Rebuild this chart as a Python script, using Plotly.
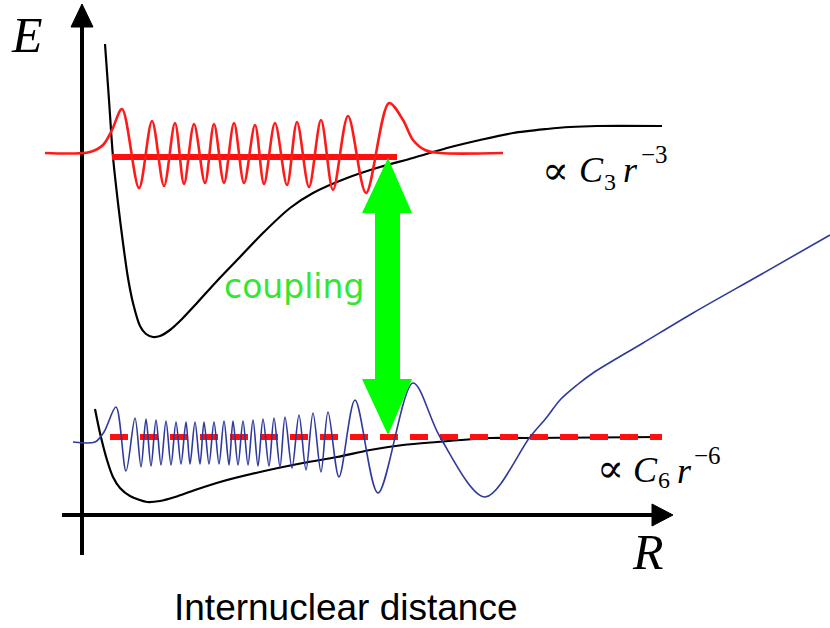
import plotly.graph_objects as go

# ---- data (pixel-like schematic coordinates) ----
UPPER_POT_X = [105, 109, 113, 118, 123, 128, 133, 140, 146, 153, 160, 170, 182, 197, 217, 240, 263, 290, 313, 347, 380, 413, 447, 480, 513, 547, 570, 597, 662]
UPPER_POT_Y = [44, 100, 157, 203, 243, 278, 303, 326, 334, 337, 336, 330, 319, 303, 281, 257, 233, 208, 193, 178, 167, 158, 148, 140, 133, 129, 127, 126, 126]

LOWER_POT_X = [95, 100, 107, 113, 120, 130, 147, 160, 175, 195, 220, 260, 303, 337, 370, 403, 437, 490, 527, 662]
LOWER_POT_Y = [409, 433, 460, 477, 488, 496, 502, 501, 497, 490, 482, 472, 463, 457, 450, 445, 442, 438, 438, 437]

RED_WAVE_X = [45, 90, 103, 112, 122, 139, 152, 164, 175, 184, 194, 205, 214, 224, 234, 244, 255, 264, 275, 287, 297, 309, 321, 333, 348, 366, 389, 403, 413, 425, 440, 503]
RED_WAVE_Y = [153, 152, 145, 130, 109, 188, 121, 186, 123, 184, 124, 183, 124, 183, 123, 183, 125, 184, 123, 185, 122, 187, 120, 190, 116, 193, 103, 120, 140, 150, 153, 153]

BLUE_WAVE_X = [73, 95, 104, 116, 126, 135, 141, 146, 151, 156, 161, 166, 171, 176, 181, 186, 190, 195, 200, 204, 209, 214, 219, 224, 229, 233, 238, 243, 248, 253, 258, 263, 269, 274, 280, 285, 292, 299, 306, 313, 321, 328, 339, 355, 378, 413, 440, 485, 530, 547, 560, 577, 593, 643, 693, 760, 830]
BLUE_WAVE_Y = [442, 442, 432, 407, 471, 418, 467, 419, 466, 420, 465, 421, 465, 422, 464, 422, 464, 422, 464, 422, 464, 422, 464, 421, 465, 421, 465, 421, 465, 420, 466, 419, 466, 418, 467, 417, 468, 415, 470, 413, 472, 412, 477, 400, 493, 383, 437, 497, 437, 417, 400, 385, 373, 343, 313, 275, 235]

THRESH_RED_X = [112, 397]      # thick red level (upper state)
THRESH_RED_Y = [157, 157]
DASHED_X = [110, 662]          # dashed red level (lower state)
DASHED_Y = [437, 437]

fig = go.Figure()

# axes
fig.add_trace(go.Scatter(x=[82, 82], y=[555, 26], mode="lines", line=dict(color="black", width=4)))
fig.add_trace(go.Scatter(x=[71, 93, 82, 71], y=[27, 27, 4, 27], mode="lines", fill="toself",
                         fillcolor="black", line=dict(color="black", width=1)))
fig.add_trace(go.Scatter(x=[62, 653], y=[515, 515], mode="lines", line=dict(color="black", width=4)))
fig.add_trace(go.Scatter(x=[652, 652, 673, 652], y=[504, 526, 515, 504], mode="lines", fill="toself",
                         fillcolor="black", line=dict(color="black", width=1)))

# potentials
fig.add_trace(go.Scatter(x=UPPER_POT_X, y=UPPER_POT_Y, mode="lines",
                         line=dict(color="black", width=2.2, shape="spline", smoothing=0.8)))
fig.add_trace(go.Scatter(x=LOWER_POT_X, y=LOWER_POT_Y, mode="lines",
                         line=dict(color="black", width=2.2, shape="spline", smoothing=0.8)))

# levels
fig.add_trace(go.Scatter(x=THRESH_RED_X, y=THRESH_RED_Y, mode="lines", line=dict(color="#ff1010", width=6)))
fig.add_trace(go.Scatter(x=DASHED_X, y=DASHED_Y, mode="lines",
                         line=dict(color="#ff1010", width=6, dash="18px,12px")))

# wavefunctions
fig.add_trace(go.Scatter(x=RED_WAVE_X, y=RED_WAVE_Y, mode="lines",
                         line=dict(color="#ff1a1a", width=2.6, shape="spline", smoothing=0.9)))
fig.add_trace(go.Scatter(x=BLUE_WAVE_X, y=BLUE_WAVE_Y, mode="lines",
                         line=dict(color="#2e3a9c", width=1.6, shape="spline", smoothing=0.9)))

# green double arrow
fig.add_trace(go.Scatter(
    x=[388, 412, 400, 400, 412, 388, 362, 375, 375, 362, 388],
    y=[158, 213, 213, 379, 379, 435, 379, 379, 213, 213, 158],
    mode="lines", fill="toself", fillcolor="#00ff00", line=dict(color="#00ff00", width=0)))

SERIF = "Liberation Serif"
ann = [
    dict(x=27, y=35, text="<i>E</i>", font=dict(family=SERIF, size=50, color="black")),
    dict(x=648, y=552, text="<i>R</i>", font=dict(family=SERIF, size=50, color="black")),
    dict(x=345, y=607, text="Internuclear distance", font=dict(family="Liberation Sans", size=37, color="black")),
    dict(x=294, y=286, text="coupling", font=dict(family="DejaVu Sans", size=33, color="#33e633")),
    # upper label: ∝ C3 r^-3
    dict(x=555, y=170, text="∝", font=dict(family="DejaVu Serif", size=40, color="black")),
    dict(x=591, y=170, text="<i>C</i>", font=dict(family=SERIF, size=36, color="black")),
    dict(x=610, y=182, text="3", font=dict(family=SERIF, size=24, color="black")),
    dict(x=630, y=170, text="<i>r</i>", font=dict(family=SERIF, size=36, color="black")),
    dict(x=654, y=154, text="−3", font=dict(family=SERIF, size=25, color="black")),
    # lower label: ∝ C6 r^-6
    dict(x=610, y=468, text="∝", font=dict(family="DejaVu Serif", size=40, color="black")),
    dict(x=645, y=470, text="<i>C</i>", font=dict(family=SERIF, size=36, color="black")),
    dict(x=664, y=480, text="6", font=dict(family=SERIF, size=24, color="black")),
    dict(x=684, y=471, text="<i>r</i>", font=dict(family=SERIF, size=36, color="black")),
    dict(x=707, y=455, text="−6", font=dict(family=SERIF, size=25, color="black")),
]
for a in ann:
    a.update(xref="x", yref="y", showarrow=False, xanchor="center", yanchor="middle")
fig.update_layout(annotations=ann)

fig.update_layout(
    width=830, height=628, autosize=False,
    margin=dict(l=0, r=0, t=0, b=0),
    paper_bgcolor="white", plot_bgcolor="white",
    showlegend=False,
    xaxis=dict(range=[0, 830], visible=False, fixedrange=True),
    yaxis=dict(range=[628, 0], visible=False, fixedrange=True),
)
fig.write_html("out.html", config={"displayModeBar": False})
